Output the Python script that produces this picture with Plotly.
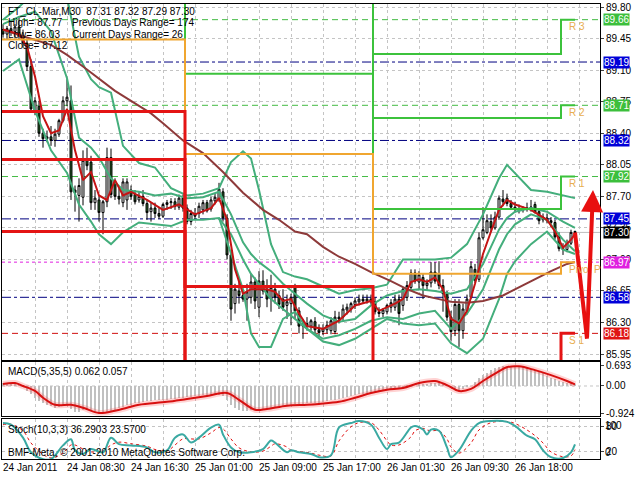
import plotly.graph_objects as go

# ---------------- data ----------------
title_line = "FT_CL-Mar,M30  87.31 87.32 87.29 87.30"
info_left = ["High= 87.77", "Low= 86.03", "Close= 87.12"]
info_right = ["Previous Days Range= 174", "Current Days Range= 26"]
macd_label = "MACD(5,35,5) 0.062 0.057"
stoch_label = "Stoch(10,3,3) 36.2903 23.5700"
copyright_label = "BMF-Meta, \u00a9 2001-2010 MetaQuotes Software Corp."

time_labels = ["24 Jan 2011", "24 Jan 08:30", "24 Jan 16:30", "25 Jan 01:00",
               "25 Jan 09:00", "25 Jan 17:00", "26 Jan 01:30", "26 Jan 09:30", "26 Jan 18:00"]
time_label_bars = [0, 16, 32, 48, 64, 80, 96, 112, 128]

opens = [89.55, 89.50, 89.56, 89.53, 89.58, 89.48, 89.40, 89.14, 88.65, 88.70,
         88.40, 88.34, 88.36, 88.32, 88.39, 88.54, 88.76, 88.76, 87.77, 87.71,
         87.69, 88.10, 88.08, 87.63, 87.66, 87.52, 87.64, 88.13, 87.86, 87.70,
         87.63, 87.66, 87.77, 87.72, 87.66, 87.70, 87.62, 87.53, 87.57, 87.51,
         87.48, 87.61, 87.63, 87.64, 87.58, 87.68, 87.57, 87.42, 87.51, 87.51,
         87.55, 87.63, 87.56, 87.65, 87.67, 87.75, 87.46, 87.05, 86.51, 86.65,
         86.60, 86.56, 86.58, 86.75, 86.47, 86.76, 86.67, 86.56, 86.67, 86.60,
         86.56, 86.49, 86.51, 86.69, 86.43, 86.26, 86.29, 86.26, 86.31, 86.22,
         86.20, 86.22, 86.21, 86.20, 86.36, 86.36, 86.44, 86.45, 86.50, 86.53,
         86.56, 86.54, 86.56, 86.53, 86.42, 86.40, 86.42, 86.47, 86.47, 86.56,
         86.49, 86.58, 86.69, 86.85, 86.75, 86.80, 86.71, 86.74, 86.86, 86.84,
         86.71, 86.62, 86.36, 86.21, 86.50, 86.21, 86.43, 86.58, 86.89, 86.78,
         87.24, 87.30, 87.42, 87.35, 87.47, 87.67, 87.68, 87.62, 87.58, 87.56,
         87.55, 87.56, 87.57, 87.61, 87.53, 87.44, 87.46, 87.43, 87.41, 87.25,
         87.12, 87.11, 87.18, 87.31]
highs = [89.61, 89.59, 89.64, 89.61, 89.70, 89.55, 89.44, 89.22, 88.80, 88.76,
         88.45, 88.43, 88.48, 88.45, 88.56, 88.81, 89.00, 88.93, 87.82, 87.90,
         88.21, 88.24, 88.15, 87.77, 87.70, 87.66, 88.24, 88.23, 87.90, 87.79,
         87.90, 87.90, 87.82, 87.77, 87.75, 87.77, 87.66, 87.63, 87.63, 87.57,
         87.63, 87.66, 87.68, 87.68, 87.72, 87.72, 87.61, 87.55, 87.57, 87.63,
         87.66, 87.66, 87.70, 87.73, 87.85, 87.79, 87.50, 87.09, 86.73, 86.75,
         86.67, 86.73, 86.84, 86.80, 86.87, 86.88, 86.78, 86.83, 86.74, 86.65,
         86.67, 86.61, 86.62, 86.73, 86.47, 86.34, 86.36, 86.34, 86.36, 86.28,
         86.28, 86.32, 86.36, 86.43, 86.42, 86.50, 86.51, 86.53, 86.58, 86.61,
         86.61, 86.61, 86.61, 86.58, 86.47, 86.46, 86.51, 86.56, 86.61, 86.61,
         86.69, 86.76, 86.89, 86.89, 86.87, 86.84, 86.78, 86.97, 86.97, 86.98,
         86.78, 86.65, 86.43, 86.56, 86.56, 86.51, 86.61, 86.98, 86.95, 87.30,
         87.58, 87.50, 87.50, 87.53, 87.71, 87.77, 87.73, 87.66, 87.64, 87.61,
         87.59, 87.63, 87.66, 87.64, 87.57, 87.51, 87.51, 87.47, 87.44, 87.30,
         87.18, 87.22, 87.33, 87.32]
lows = [89.46, 89.44, 89.48, 89.46, 89.44, 89.35, 89.09, 88.63, 88.60, 88.36,
        88.24, 88.30, 88.26, 88.25, 88.36, 88.52, 88.70, 87.66, 87.53, 87.42,
        87.60, 87.99, 87.55, 87.55, 87.42, 87.28, 87.58, 87.68, 87.66, 87.61,
        87.58, 87.55, 87.66, 87.61, 87.63, 87.59, 87.44, 87.42, 87.46, 87.45,
        87.46, 87.55, 87.56, 87.55, 87.55, 87.53, 87.39, 87.38, 87.44, 87.46,
        87.50, 87.52, 87.53, 87.61, 87.64, 87.42, 87.00, 86.32, 86.40, 86.51,
        86.53, 86.32, 86.51, 86.45, 86.36, 86.61, 86.47, 86.42, 86.51, 86.45,
        86.43, 86.34, 86.27, 86.34, 86.18, 86.12, 86.21, 86.21, 86.16, 86.15,
        86.16, 86.18, 86.17, 86.17, 86.29, 86.32, 86.39, 86.41, 86.45, 86.49,
        86.51, 86.51, 86.50, 86.39, 86.36, 86.36, 86.39, 86.41, 86.43, 86.27,
        86.43, 86.54, 86.65, 86.73, 86.67, 86.56, 86.65, 86.69, 86.73, 86.67,
        86.42, 86.32, 86.10, 86.15, 86.03, 86.12, 86.39, 86.56, 86.74, 86.75,
        87.22, 87.28, 87.31, 87.33, 87.44, 87.59, 87.59, 87.55, 87.52, 87.51,
        87.52, 87.53, 87.53, 87.51, 87.39, 87.41, 87.40, 87.36, 87.22, 87.09,
        87.05, 87.08, 87.16, 87.29]
closes = [89.50, 89.56, 89.53, 89.58, 89.48, 89.40, 89.14, 88.67, 88.76, 88.40,
          88.34, 88.36, 88.32, 88.39, 88.54, 88.76, 88.80, 87.75, 87.74, 87.82,
          88.10, 88.04, 87.63, 87.68, 87.52, 87.64, 88.13, 87.72, 87.70, 87.67,
          87.86, 87.86, 87.70, 87.64, 87.70, 87.62, 87.52, 87.57, 87.51, 87.48,
          87.61, 87.63, 87.64, 87.59, 87.68, 87.57, 87.42, 87.51, 87.48, 87.59,
          87.63, 87.54, 87.66, 87.69, 87.78, 87.46, 87.05, 86.45, 86.67, 86.60,
          86.56, 86.64, 86.75, 86.54, 86.76, 86.65, 86.56, 86.69, 86.58, 86.50,
          86.47, 86.53, 86.58, 86.43, 86.26, 86.29, 86.26, 86.32, 86.22, 86.19,
          86.23, 86.27, 86.32, 86.36, 86.34, 86.45, 86.47, 86.51, 86.54, 86.56,
          86.54, 86.56, 86.53, 86.42, 86.40, 86.44, 86.49, 86.52, 86.56, 86.40,
          86.67, 86.71, 86.85, 86.76, 86.83, 86.71, 86.74, 86.86, 86.76, 86.71,
          86.62, 86.36, 86.20, 86.50, 86.21, 86.45, 86.56, 86.92, 86.77, 87.24,
          87.33, 87.43, 87.35, 87.47, 87.68, 87.64, 87.62, 87.58, 87.56, 87.55,
          87.56, 87.57, 87.58, 87.52, 87.43, 87.47, 87.43, 87.41, 87.25, 87.12,
          87.11, 87.18, 87.30, 87.30]

# fast moving average (red)
ma_fast_x = [0, 4, 6, 8, 10, 12, 14, 16, 18, 20, 22, 24, 26, 28, 30, 32, 36, 40, 44, 48,
             52, 54, 56, 58, 60, 62, 64, 66, 68, 70, 72, 74, 76, 80, 84, 88, 92, 94, 98, 100,
             102, 104, 106, 108, 110, 112, 114, 116, 118, 120, 122, 124, 126, 128, 132, 136, 138, 140, 142, 143]
ma_fast_y = [89.55, 89.50, 89.36, 89.03, 88.59, 88.40, 88.43, 88.67, 88.21, 87.88,
             87.97, 87.71, 87.66, 87.88, 87.71, 87.75, 87.66, 87.55, 87.61, 87.50,
             87.57, 87.68, 87.44, 86.89, 86.62, 86.67, 86.67, 86.67, 86.64, 86.54,
             86.56, 86.40, 86.26, 86.23, 86.32, 86.49, 86.54, 86.43, 86.51, 86.56,
             86.75, 86.78, 86.75, 86.80, 86.67, 86.34, 86.29, 86.43, 86.73, 87.06,
             87.31, 87.55, 87.66, 87.61, 87.55, 87.44, 87.31, 87.13, 87.22, 87.28]

# slow moving average (brown)
ma_slow_x = [0, 4, 12, 16, 20, 24, 28, 32, 37, 40, 45, 50, 55, 60, 65, 69, 73, 76, 80, 84,
             88, 92, 97, 101, 105, 109, 112, 116, 120, 125, 129, 133, 137, 141, 143]
ma_slow_y = [89.55, 89.49, 89.38, 89.27, 89.14, 89.00, 88.87, 88.76, 88.62, 88.51,
             88.32, 88.18, 87.97, 87.74, 87.55, 87.44, 87.31, 87.28, 87.14, 87.03,
             86.95, 86.86, 86.76, 86.67, 86.60, 86.56, 86.53, 86.52, 86.54, 86.60,
             86.69, 86.78, 86.87, 86.95, 86.97]

# band lines (teal); None where a line is not visible
band_x = [0, 4, 8, 12, 16, 19, 22, 24, 27, 30, 34, 38, 42, 46, 50, 54, 57, 60, 62, 64,
          67, 70, 73, 76, 80, 84, 88, 92, 96, 100, 104, 108, 112, 116, 120, 124, 126, 128, 132, 136, 140, 143]
band_a_up = [89.66, 89.80, 89.97, 90.02, 89.91, 89.25, 89.00, 88.91, 88.85, 88.26,
             88.07, 88.02, 87.79, 87.71, 87.73, 87.79, 88.08, 88.20, 88.12, 87.77,
             87.17, 86.86, 86.81, 86.78, 86.70, 86.62, 86.66, 86.68, 86.72, 87.00,
             87.00, 87.00, 87.02, 87.17, 87.50, 87.90, 88.05, 87.96, 87.77, 87.75, 87.71, 87.68]
band_b_up = [89.61, 89.69, 89.75, 89.53, 89.01, 88.35, 88.24, 88.13, 87.90, 87.77,
             87.75, 87.71, 87.73, 87.68, 87.69, 87.75, 87.50, 87.19, 87.06, 86.97,
             86.87, 86.73, 86.62, 86.51, 86.38, 86.31, 86.34, 86.49, 86.60, 86.65,
             86.67, 86.65, 86.62, 86.67, 86.95, 87.33, 87.46, 87.53, 87.57, 87.53, 87.42, 87.35]
band_b_lo = [None, None, None, None, None, None, None, None, None, None,
             None, None, None, None, None, 87.46, 87.28, 87.00, 86.84, 86.73,
             86.56, 86.45, 86.34, 86.23, 86.12, 86.16, 86.23, 86.32, 86.36, 86.34,
             86.40, 86.43, 86.23, 86.40, 86.67, 87.11, 87.28, 87.39, 87.50, 87.44, 87.22, 87.09]
band_a_lo = [89.09, 89.22, 88.65, 88.21, 87.96, 87.61, 87.42, 87.28, 87.17, 87.30,
             87.41, 87.39, 87.37, 87.44, 87.44, 87.46, 87.06, 86.67, 86.18, 86.03,
             86.03, 86.34, 86.42, 86.23, 86.09, 86.05, 86.12, 86.23, 86.34, 86.29,
             86.27, 86.29, 86.07, 85.96, 86.12, 86.56, 86.84, 86.98, 87.17, 87.31, 87.11, 87.06]

# daily pivot levels (one value per segment)
day_start_bar = [0, 46, 93, 140]
pivot = [89.44, 88.17, 86.84, 86.97]
r1 = [89.97, 89.06, 87.56, 87.92]
r2 = [90.77, 90.53, 88.57, 88.71]
r3 = [91.30, 91.42, 89.28, 89.66]
s1 = [88.64, 86.70, 85.83, 86.18]
s2 = [88.11, 85.81, 85.11, 85.23]
s3 = [87.31, 84.34, 84.10, 84.44]

# full-width level lines
level_r_now = [89.66, 88.71, 87.92]
level_mid = [89.19, 88.32, 87.45, 86.58]
level_pivot_now = 86.97
level_s_now = 86.18
bid_price = 87.30
price_ticks = [89.80, 89.45, 89.10, 88.75, 88.40, 88.05, 87.70, 87.35, 87.00, 86.65, 86.30, 85.95]

# forecast zigzag
forecast_x = [143, 146, 147.5]
forecast_y = [87.30, 86.12, 87.77]

# MACD
macd_hist = [0.08, 0.09, 0.08, 0.07, 0.04, -0.05, -0.17, -0.28, -0.40, -0.51,
             -0.58, -0.64, -0.70, -0.74, -0.72, -0.68, -0.67, -0.80, -0.90, -0.88,
             -0.84, -0.82, -0.84, -0.88, -0.91, -0.92, -0.88, -0.85, -0.81, -0.76,
             -0.72, -0.67, -0.64, -0.60, -0.57, -0.55, -0.53, -0.51, -0.50, -0.49,
             -0.48, -0.47, -0.45, -0.44, -0.42, -0.40, -0.39, -0.37, -0.36, -0.34,
             -0.33, -0.32, -0.31, -0.30, -0.30, -0.36, -0.47, -0.64, -0.76, -0.84,
             -0.86, -0.85, -0.84, -0.83, -0.81, -0.79, -0.77, -0.74, -0.72, -0.70,
             -0.68, -0.66, -0.64, -0.63, -0.62, -0.61, -0.60, -0.59, -0.58, -0.57,
             -0.55, -0.52, -0.50, -0.47, -0.44, -0.41, -0.37, -0.34, -0.32, -0.29,
             -0.27, -0.25, -0.24, -0.21, -0.18, -0.16, -0.13, -0.12, -0.10, -0.09,
             -0.07, -0.05, -0.03, 0.00, 0.03, 0.05, 0.07, 0.09, 0.10, 0.09,
             0.05, 0.00, -0.08, -0.14, -0.17, -0.12, -0.04, 0.00, 0.12, 0.25,
             0.37, 0.45, 0.54, 0.60, 0.64, 0.67, 0.69, 0.69, 0.68, 0.67,
             0.65, 0.62, 0.58, 0.54, 0.48, 0.42, 0.35, 0.27, 0.22, 0.17,
             0.13, 0.10, 0.08, 0.062]
macd_sig_x = [0, 3, 5, 8, 10, 13, 17, 20, 24, 28, 31, 34, 41, 46, 51, 56, 59, 63, 66, 71,
              76, 79, 84, 88, 92, 96, 100, 104, 108, 111, 114, 117, 120, 123, 126, 129, 133, 137, 141, 143]
macd_sig_y = [0.07, 0.10, 0.00, -0.17, -0.40, -0.64, -0.64, -0.74, -0.92, -0.84,
              -0.74, -0.64, -0.54, -0.44, -0.34, -0.24, -0.47, -0.81, -0.78, -0.67,
              -0.64, -0.61, -0.54, -0.40, -0.24, -0.13, -0.07, 0.10, 0.17, 0.03,
              -0.17, -0.10, 0.17, 0.42, 0.64, 0.67, 0.54, 0.37, 0.17, 0.057]
macd_ticks = [0.693, 0.0, -0.924]
macd_ticktext = ["0.693", "0.00", "-0.924"]

# Stochastic
stoch_x = [0, 2, 5, 7, 10, 12, 15, 17, 18, 20, 22, 25, 27, 29, 32, 36, 38, 41, 43, 45,
           47, 49, 52, 54, 55, 57, 59, 62, 65, 67, 68, 71, 72, 74, 77, 79, 82, 84, 87, 89,
           92, 94, 96, 97, 99, 102, 103, 105, 106, 107, 109, 111, 112, 114, 117, 119, 122, 126, 128, 131,
           133, 135, 137, 140, 142, 143]
stoch_main = [89, 85, 53, 17, 0, 0, 34, 49, 22, 13,
              25, 17, 53, 37, 34, 29, 17, 22, 53, 61,
              41, 53, 78, 85, 61, 29, 17, 17, 25, 46,
              41, 17, 22, 17, 13, 5, 10, 78, 89, 94,
              85, 53, 25, 37, 41, 78, 82, 73, 61, 73,
              70, 29, 5, 22, 70, 89, 94, 92, 82, 58,
              49, 22, 5, 3, 17, 36.29]
stoch_signal = [85, 86, 70, 40, 12, 3, 15, 35, 35, 25,
                18, 20, 35, 42, 38, 32, 24, 20, 35, 50,
                50, 50, 65, 78, 75, 50, 28, 18, 20, 32,
                38, 30, 22, 19, 15, 10, 8, 45, 80, 90,
                90, 72, 45, 35, 35, 55, 70, 76, 72, 70,
                70, 50, 30, 15, 40, 72, 90, 93, 88, 72,
                58, 40, 18, 6, 8, 23.57]

# ---------------- figure ----------------
N = len(closes)
bars = list(range(N))
x_left, x_right = -0.25, 149.25
grid_bars = list(range(0, 150, 8))

GRID = "#C4C4C4"
BAND = "#44AE7C"
FONT = "Liberation Sans"

fig = go.Figure()

fig.add_trace(go.Candlestick(
    x=bars, open=opens, high=highs, low=lows, close=closes,
    increasing=dict(line=dict(color="black", width=1), fillcolor="white"),
    decreasing=dict(line=dict(color="black", width=1), fillcolor="#2C662C"),
    whiskerwidth=0, xaxis="x", yaxis="y", hoverinfo="skip"))

for band in (band_a_up, band_b_up, band_b_lo, band_a_lo):
    fig.add_trace(go.Scatter(x=band_x, y=band, mode="lines", connectgaps=False,
                             line=dict(color=BAND, width=2), xaxis="x", yaxis="y", hoverinfo="skip"))

fig.add_trace(go.Scatter(x=ma_slow_x, y=ma_slow_y, mode="lines",
                         line=dict(color="#8E3A3A", width=2), xaxis="x", yaxis="y", hoverinfo="skip"))
fig.add_trace(go.Scatter(x=ma_fast_x, y=ma_fast_y, mode="lines",
                         line=dict(color="#C41414", width=2), xaxis="x", yaxis="y", hoverinfo="skip"))

seg_x = [x_left] + [b - 0.5 for b in day_start_bar[1:]] + [N - 1]


def step(levels, color, width):
    fig.add_trace(go.Scatter(x=seg_x, y=levels + [levels[-1]], mode="lines",
                             line=dict(color=color, width=width, shape="hv"),
                             xaxis="x", yaxis="y", hoverinfo="skip"))


for lv in (r3, r2, r1):
    step(lv, "#3CC23C", 2)
step(pivot, "#F0A630", 2)
for lv in (s3, s2, s1):
    step(lv, "#E41414", 3)

# forecast zigzag
fig.add_trace(go.Scatter(x=forecast_x[:2], y=forecast_y[:2], mode="lines",
                         line=dict(color="#E81010", width=4), xaxis="x", yaxis="y", hoverinfo="skip"))

# MACD
fig.add_trace(go.Bar(x=bars, y=macd_hist, marker=dict(color="#C0C0C0", line=dict(width=0)),
                     width=0.5, xaxis="x2", yaxis="y2", hoverinfo="skip"))
fig.add_trace(go.Scatter(x=macd_sig_x, y=macd_sig_y, mode="lines",
                         line=dict(color="rgba(255,80,80,0.25)", width=6, shape="spline"),
                         xaxis="x2", yaxis="y2", hoverinfo="skip"))
fig.add_trace(go.Scatter(x=macd_sig_x, y=macd_sig_y, mode="lines",
                         line=dict(color="#D81010", width=2, shape="spline"),
                         xaxis="x2", yaxis="y2", hoverinfo="skip"))

# Stochastic
fig.add_trace(go.Scatter(x=stoch_x, y=stoch_signal, mode="lines",
                         line=dict(color="#E01010", width=1, dash="dot", shape="spline"),
                         xaxis="x3", yaxis="y3", hoverinfo="skip"))
fig.add_trace(go.Scatter(x=stoch_x, y=stoch_main, mode="lines",
                         line=dict(color="#3AA9A2", width=2, shape="spline"),
                         xaxis="x3", yaxis="y3", hoverinfo="skip"))

# horizontal level lines
shapes = []


def hline(y, color, dash, xref="x", yref="y", width=1):
    shapes.append(dict(type="line", xref=xref, yref=yref, x0=x_left, x1=x_right, y0=y, y1=y,
                       line=dict(color=color, width=width, dash=dash), layer="below"))


hline(bid_price, "#BDBDBD", "solid")
for v in level_r_now:
    hline(v, "#44BB44", "6px,4px")
for v in level_mid:
    hline(v, "#000080", "dashdot")
hline(level_pivot_now, "#E020E0", "3px,3px")
hline(level_s_now, "#D01010", "6px,4px")
hline(0, GRID, "3px,3px", xref="x2", yref="y2")

annotations = []
txt = dict(family=FONT, size=10, color="black")


def pxx(p):  # pixel x -> paper
    return (p - 2) / 598.0


def pxy(p):  # pixel y -> paper
    return 1 - p / 480.0


annotations.append(dict(text=title_line, x=pxx(6), y=pxy(10), xref="paper", yref="paper",
                        xanchor="left", yanchor="middle", showarrow=False, font=txt))
for i, t in enumerate(info_left):
    annotations.append(dict(text=t, x=pxx(6), y=pxy(21 + 11.5 * i), xref="paper", yref="paper",
                            xanchor="left", yanchor="middle", showarrow=False, font=txt))
for i, t in enumerate(info_right):
    annotations.append(dict(text=t, x=pxx(70), y=pxy(21 + 11.5 * i), xref="paper", yref="paper",
                            xanchor="left", yanchor="middle", showarrow=False, font=txt))
annotations.append(dict(text=macd_label, x=pxx(6), y=pxy(373), xref="paper", yref="paper",
                        xanchor="left", yanchor="middle", showarrow=False, font=txt))
annotations.append(dict(text=stoch_label, x=pxx(6), y=pxy(432), xref="paper", yref="paper",
                        xanchor="left", yanchor="middle", showarrow=False, font=txt))
annotations.append(dict(text=copyright_label, x=pxx(6), y=pxy(455), xref="paper", yref="paper",
                        xanchor="left", yanchor="middle", showarrow=False, font=txt))

for b, t in zip(time_label_bars, time_labels):
    annotations.append(dict(text=t, x=b, y=pxy(470), xref="x3", yref="paper", xshift=-2,
                            xanchor="left", yanchor="middle", showarrow=False, font=txt))

# level names
lbl_font = dict(family=FONT, size=10, color="#E8AE50")
for name, lv in (("R 3", r3), ("R 2", r2), ("R 1", r1), ("Pivot P", pivot), ("S 1", s1)):
    annotations.append(dict(text=name, x=day_start_bar[-1] - 0.5, y=lv[-1], xref="x", yref="y",
                            xshift=6, yshift=-7, xanchor="left", yanchor="middle",
                            showarrow=False, font=lbl_font))

# forecast arrow head segment
annotations.append(dict(text="", x=forecast_x[2], y=forecast_y[2], ax=forecast_x[1], ay=forecast_y[1],
                        xref="x", yref="y", axref="x", ayref="y", showarrow=True,
                        arrowhead=2, arrowsize=1.1, arrowwidth=4, arrowcolor="#E81010", standoff=0))

# price boxes on the right axis
box_values = [89.66, 89.19, 88.71, 88.32, 87.92, 87.45, 87.30, 86.97, 86.58, 86.18]
box_colors = ["#3CBF3C", "#0000D8", "#3CBF3C", "#0000D8", "#3CBF3C", "#0000D8",
              "#000000", "#E020E0", "#0000D8", "#E01414"]
for v, c in zip(box_values, box_colors):
    annotations.append(dict(text="%.2f" % v, x=1, y=v, xref="paper", yref="y", xshift=3,
                            xanchor="left", yanchor="middle", showarrow=False,
                            bgcolor=c, borderpad=0, font=dict(family=FONT, size=10, color="white")))

# stochastic extreme labels
annotations.append(dict(text="100", x=1, y=100, xref="paper", yref="y3", xshift=3, yshift=-7,
                        xanchor="left", yanchor="middle", showarrow=False, font=txt))
annotations.append(dict(text="0", x=1, y=0, xref="paper", yref="y3", xshift=3, yshift=7,
                        xanchor="left", yanchor="middle", showarrow=False, font=txt))

axis_common = dict(showline=True, mirror=True, linecolor="black", linewidth=1, zeroline=False)
xcommon = dict(axis_common, range=[x_left, x_right], tickmode="array", tickvals=grid_bars,
               showticklabels=False, ticks="", showgrid=True, gridcolor=GRID, griddash="3px,3px",
               domain=[0, 1])

fig.update_layout(
    width=640, height=480,
    margin=dict(l=2, r=40, t=0, b=0),
    paper_bgcolor="white", plot_bgcolor="white",
    showlegend=False, hovermode=False,
    font=dict(family=FONT, size=10, color="black"),
    bargap=0,
    xaxis=dict(xcommon, anchor="y", rangeslider=dict(visible=False)),
    xaxis2=dict(xcommon, anchor="y2", matches="x"),
    xaxis3=dict(xcommon, anchor="y3", matches="x"),
    yaxis=dict(axis_common, domain=[1 - 362 / 480, 1 - 2 / 480], range=[85.882, 89.834],
               side="right", tickmode="array", tickvals=price_ticks,
               ticktext=["%.2f" % v for v in price_ticks], ticks="outside", ticklen=3,
               tickfont=dict(family=FONT, size=10), showgrid=True, gridcolor=GRID,
               griddash="3px,3px", anchor="x"),
    yaxis2=dict(axis_common, domain=[1 - 418 / 480, 1 - 364 / 480], range=[-1.01, 0.81],
                side="right", tickmode="array", tickvals=macd_ticks, ticktext=macd_ticktext,
                ticks="outside", ticklen=3, tickfont=dict(family=FONT, size=10),
                showgrid=False, anchor="x2"),
    yaxis3=dict(axis_common, domain=[1 - 462 / 480, 1 - 421 / 480], range=[0, 100],
                side="right", tickmode="array", tickvals=[80, 20], ticktext=["80", "20"],
                ticks="outside", ticklen=3, tickfont=dict(family=FONT, size=10),
                showgrid=True, gridcolor=GRID, griddash="3px,3px", anchor="x3"),
    shapes=shapes,
    annotations=annotations,
)

fig.write_html("out.html", config={"displayModeBar": False},
               post_script="document.body.style.margin='0';")
